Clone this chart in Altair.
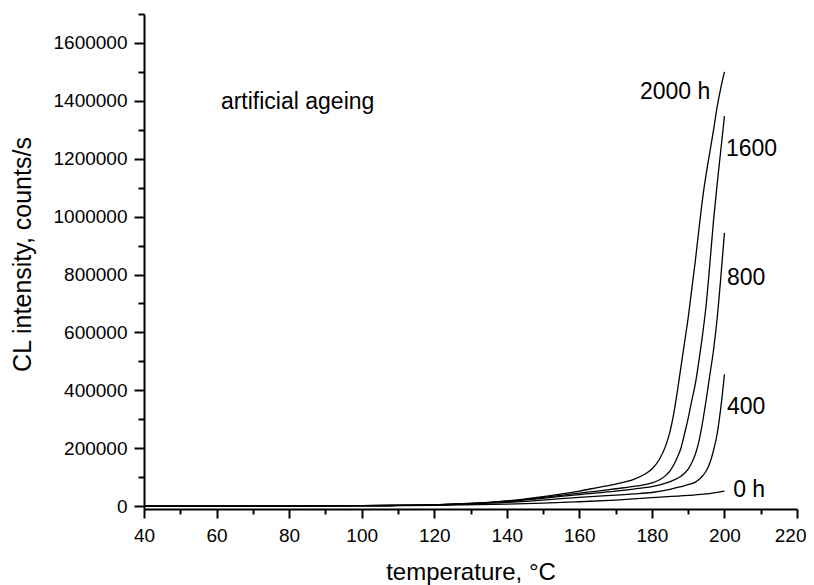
import altair as alt
import pandas as pd

# ---- data ----
t_2000 = [40, 60, 80, 100, 110, 120, 130, 140, 150, 160, 165, 170, 175, 178, 180, 182, 184, 185, 186, 187, 188, 189, 190, 191, 192, 193, 194, 195, 196, 197, 198, 199, 200]
v_2000 = [0, 200, 600, 1500, 2500, 4500, 9000, 18000, 33000, 52000, 64000, 76000, 92000, 110000, 128000, 160000, 215000, 258000, 318000, 395000, 480000, 565000, 650000, 750000, 850000, 960000, 1065000, 1150000, 1225000, 1300000, 1380000, 1445000, 1500000]

t_1600 = [40, 60, 80, 100, 110, 120, 130, 140, 150, 160, 165, 170, 175, 180, 182, 184, 185, 186, 187, 188, 189, 190, 191, 192, 193, 194, 195, 196, 197, 198, 199, 200]
v_1600 = [0, 200, 600, 1500, 2500, 4500, 9000, 17000, 30000, 45000, 52000, 60000, 68000, 80000, 90000, 108000, 122000, 142000, 168000, 200000, 250000, 303000, 365000, 424000, 505000, 595000, 700000, 840000, 988000, 1113000, 1230000, 1347000]

t_800 = [40, 60, 80, 100, 110, 120, 130, 140, 150, 160, 170, 175, 180, 184, 186, 188, 190, 191, 192, 193, 194, 195, 196, 197, 198, 199, 200]
v_800 = [0, 200, 600, 1500, 2500, 4500, 8500, 16000, 27000, 40000, 52000, 59000, 67000, 80000, 90000, 103000, 128000, 150000, 180000, 225000, 292000, 370000, 455000, 540000, 650000, 790000, 944000]

t_400 = [40, 60, 80, 100, 110, 120, 130, 140, 150, 160, 170, 175, 180, 185, 188, 190, 192, 193, 194, 195, 196, 197, 198, 199, 200]
v_400 = [0, 200, 600, 1400, 2200, 4000, 7500, 13000, 21000, 30000, 38000, 42000, 47000, 58000, 67000, 74000, 83000, 92000, 105000, 122000, 150000, 193000, 250000, 340000, 455000]

t_0 = [40, 60, 80, 100, 120, 140, 150, 160, 170, 180, 190, 195, 200]
v_0 = [0, 100, 400, 1200, 3000, 7000, 10000, 15000, 21000, 29000, 37000, 42000, 52000]

x_major = [40, 60, 80, 100, 120, 140, 160, 180, 200, 220]
x_minor = [50, 70, 90, 110, 130, 150, 170, 190, 210]
x_last = [220]
y_major = [0, 200000, 400000, 600000, 800000, 1000000, 1200000, 1400000, 1600000]
y_minor = [100000, 300000, 500000, 700000, 900000, 1100000, 1300000, 1500000, 1700000]

left_labels = ["1600", "800", "400", "0 h", "artificial ageing"]
left_x = [200.4, 200.7, 200.7, 202.4, 61.2]
left_y = [1208000, 763000, 318000, 32000, 1373000]

right_labels = ["2000 h"]
right_x = [196.1]
right_y = [1405000]

# ---- build table ----
rows = []
for name, ts, vs in [("2000 h", t_2000, v_2000), ("1600 h", t_1600, v_1600),
                     ("800 h", t_800, v_800), ("400 h", t_400, v_400), ("0 h", t_0, v_0)]:
    for t, v in zip(ts, vs):
        rows.append({"series": name, "temp": t, "cl": v})
df = pd.DataFrame(rows)

lab_l = pd.DataFrame({"label": left_labels, "temp": left_x, "cl": left_y})
lab_r = pd.DataFrame({"label": right_labels, "temp": right_x, "cl": right_y})

FONT = "Liberation Sans"
xscale = alt.Scale(domain=[40, 220], nice=False, zero=False)
yscale = alt.Scale(domain=[-10000, 1700000], nice=False, zero=False)

lines = alt.Chart(df).mark_line(color="black", strokeWidth=1.3, interpolate="monotone").encode(
    x=alt.X("temp:Q", scale=xscale,
            axis=alt.Axis(values=x_major, orient="bottom", title="temperature, °C",
                          labelExpr="datum.value == 220 ? '' : datum.label",
                          tickSize=9, tickWidth=2, domainWidth=2, domainColor="black",
                          tickColor="black", labelPadding=8, labelFontSize=19,
                          labelFont=FONT, labelColor="black", labelFlush=False,
                          labelOverlap=False, titleFont=FONT,
                          titleFontSize=24, titleFontWeight="normal", titleColor="black",
                          titleBaseline="alphabetic", titleY=70, grid=False)),
    y=alt.Y("cl:Q", scale=yscale,
            axis=alt.Axis(values=y_major, orient="left", format="d",
                          title="CL intensity, counts/s",
                          tickSize=10, tickWidth=2, domainWidth=2, domainColor="black",
                          tickColor="black", labelPadding=7, labelFontSize=19,
                          labelFont=FONT, labelColor="black", labelFlush=False,
                          labelOverlap=False, titleFont=FONT,
                          titleFontSize=25, titleFontWeight="normal", titleColor="black",
                          titleAngle=-90, titleBaseline="alphabetic", titleAlign="center",
                          titleX=-114, titleY=240, grid=False)),
    detail="series:N",
)

minor = alt.Chart(df).mark_line(opacity=0).encode(
    x=alt.X("temp:Q", scale=xscale,
            axis=alt.Axis(values=x_minor, orient="bottom", labels=False, domain=False,
                          title=None, tickSize=5, tickWidth=2, tickColor="black", grid=False)),
    y=alt.Y("cl:Q", scale=yscale,
            axis=alt.Axis(values=y_minor, orient="left", labels=False, domain=False,
                          title=None, tickSize=6, tickWidth=2, tickColor="black", grid=False)),
    detail="series:N",
)

# last x label, kept inside the page edge
last = alt.Chart(df).mark_line(opacity=0).encode(
    x=alt.X("temp:Q", scale=xscale,
            axis=alt.Axis(values=x_last, orient="bottom", domain=False, ticks=False,
                          title=None, labelPadding=17, labelFontSize=19, labelFont=FONT,
                          labelColor="black", labelAlign="right", labelOffset=9,
                          labelFlush=False, labelOverlap=False, grid=False)),
    y=alt.Y("cl:Q", scale=yscale, axis=None),
    detail="series:N",
)

text_l = alt.Chart(lab_l).mark_text(align="left", baseline="alphabetic", font=FONT,
                                     fontSize=23, color="black").encode(
    x=alt.X("temp:Q", scale=xscale, axis=None),
    y=alt.Y("cl:Q", scale=yscale, axis=None),
    text="label:N",
)
text_r = alt.Chart(lab_r).mark_text(align="right", baseline="alphabetic", font=FONT,
                                     fontSize=23, color="black").encode(
    x=alt.X("temp:Q", scale=xscale, axis=None),
    y=alt.Y("cl:Q", scale=yscale, axis=None),
    text="label:N",
)

chart = alt.layer(lines, minor, last, text_l, text_r).resolve_axis(
    x="independent", y="independent"
).properties(
    width=653, height=495,
    autosize=alt.AutoSizeParams(type="none"),
    padding={"left": 136, "top": 6, "right": 9, "bottom": 76},
    background="white",
).configure_view(stroke=None)

chart.save("out.html", embed_options={"renderer": "svg", "actions": False})
